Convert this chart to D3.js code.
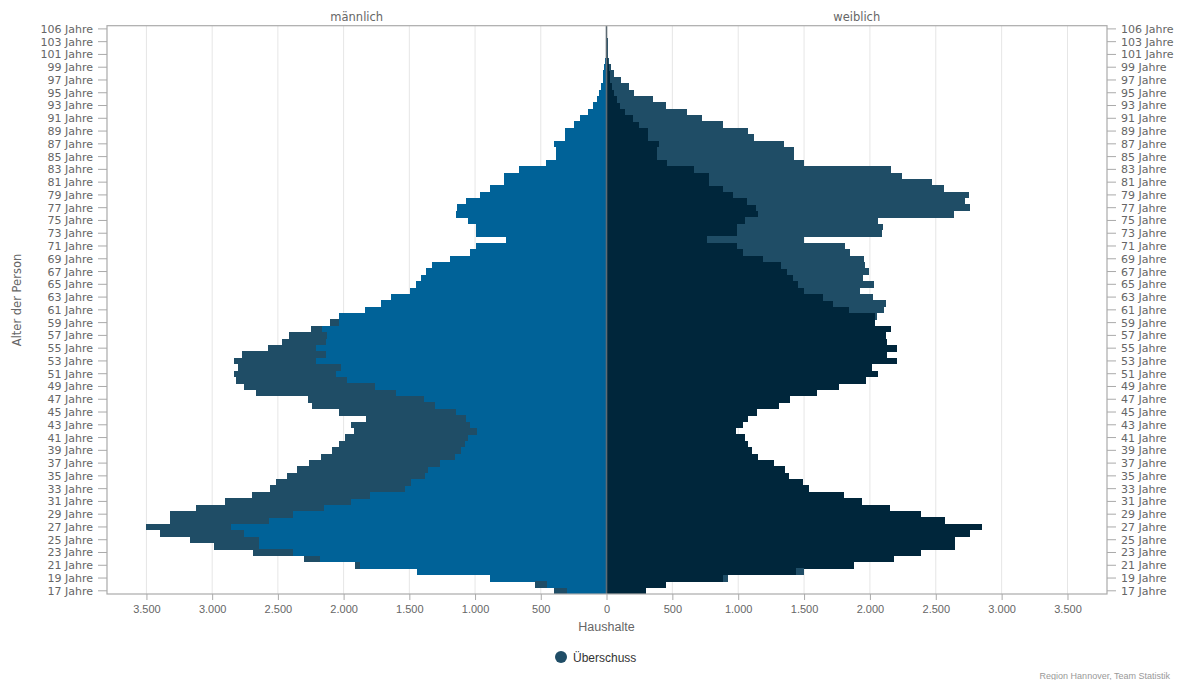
<!DOCTYPE html>
<html>
<head>
<meta charset="utf-8">
<script src="https://cdn.jsdelivr.net/npm/d3@7"></script>
<style>
  html, body { margin: 0; padding: 0; background: #fff; }
  svg { display: block; }
  text { font-family: "DejaVu Sans", Verdana, sans-serif; }
</style>
</head>
<body>
<svg id="chart" width="1184" height="680"></svg>
<script>
// ---- data ----
const ages = [17,18,19,20,21,22,23,24,25,26,27,28,29,30,31,32,33,34,35,36,37,38,39,40,
  41,42,43,44,45,46,47,48,49,50,51,52,53,54,55,56,57,58,59,60,61,62,63,64,65,66,67,68,69,70,
  71,72,73,74,75,76,77,78,79,80,81,82,83,84,85,86,87,88,89,90,91,92,93,94,95,96,97,98,99,100,
  101,102,103,104,106];

const male = [401,545,888,1441,1910,2303,2689,2986,3166,3400,3506,3318,3318,3121,2905,2694,2562,2512,2430,2354,
  2263,2169,2088,2035,1986,1923,1941,1827,2035,2240,2271,2664,2758,2816,2834,2803,2834,2770,2575,2469,
  2413,2250,2106,2035,1839,1718,1641,1497,1451,1413,1370,1324,1192,1035,994,766,994,989,1053,1147,
  1137,1066,964,888,779,779,665,457,386,386,401,312,312,249,203,140,101,76,56,43,
  30,25,18,10,6,4,3,2,2];

const female = [297,452,926,1502,1877,2182,2385,2644,2644,2760,2854,2570,2385,2151,1941,1801,1535,1489,1383,1357,
  1269,1154,1104,1078,1053,984,1040,1071,1142,1307,1390,1598,1763,1971,2060,2017,2207,2131,2207,2131,
  2123,2162,2035,2050,2106,2123,2022,1923,2030,1948,1992,1961,1953,1847,1814,1497,2093,2101,2063,2638,
  2760,2722,2753,2562,2468,2240,2161,1497,1421,1421,1350,1121,1073,888,723,614,452,355,211,173,
  107,56,35,20,14,10,8,5,3];

const xTicks = [0,500,1000,1500,2000,2500,3000,3500];
const sideTitles = ["männlich", "weiblich"];
const xTitle = "Haushalte";
const yTitle = "Alter der Person";
const legendLabel = "Überschuss";
const credit = "Region Hannover, Team Statistik";

// ---- styles ----
const C_MALE = "#006298";
const C_FEMALE = "#00263b";
const C_SURPLUS = "#1f4d66";
const C_TEXT = "#666666";

// ---- layout ----
const pLeft = 107, pRight = 1107, pTop = 25.7, pBottom = 594, zeroX = 606.5;
const maxVal = 3800;

const svg = d3.select("#chart");

const y = d3.scaleBand().domain(ages.map(String)).range([pBottom, pTop]).padding(0);
const xL = d3.scaleLinear().domain([0, maxVal]).range([zeroX, pLeft]);
const xR = d3.scaleLinear().domain([0, maxVal]).range([zeroX, pRight]);

// grid lines
const grid = svg.append("g");
xTicks.filter(t => t > 0).forEach(t => {
  [xL(t), xR(t)].forEach(px => {
    grid.append("line").attr("x1", px).attr("x2", px).attr("y1", pTop).attr("y2", pBottom)
      .attr("stroke", "#e6e6e6").attr("stroke-width", 1);
  });
});

const data = ages.map((a, i) => ({ age: String(a), m: male[i], f: female[i], base: Math.min(male[i], female[i]) }));

// bars
const bars = svg.append("g").attr("shape-rendering", "crispEdges");
bars.selectAll(".mb").data(data).join("rect")
  .attr("x", d => xL(d.base)).attr("width", d => xL(0) - xL(d.base))
  .attr("y", d => y(d.age)).attr("height", y.bandwidth() + 0.3)
  .attr("fill", C_MALE);
bars.selectAll(".ms").data(data.filter(d => d.m > d.f)).join("rect")
  .attr("x", d => xL(d.m)).attr("width", d => xL(d.base) - xL(d.m))
  .attr("y", d => y(d.age)).attr("height", y.bandwidth() + 0.3)
  .attr("fill", C_SURPLUS);
bars.selectAll(".fb").data(data).join("rect")
  .attr("x", xR(0)).attr("width", d => xR(d.base) - xR(0))
  .attr("y", d => y(d.age)).attr("height", y.bandwidth() + 0.3)
  .attr("fill", C_FEMALE);
bars.selectAll(".fs").data(data.filter(d => d.f > d.m)).join("rect")
  .attr("x", d => xR(d.base)).attr("width", d => xR(d.f) - xR(d.base))
  .attr("y", d => y(d.age)).attr("height", y.bandwidth() + 0.3)
  .attr("fill", C_SURPLUS);

// zero line
svg.append("line").attr("x1", zeroX).attr("x2", zeroX).attr("y1", pTop).attr("y2", pBottom)
  .attr("stroke", "#5f6b73").attr("stroke-width", 1.6);

// frame
svg.append("rect").attr("x", pLeft).attr("y", pTop).attr("width", pRight - pLeft).attr("height", pBottom - pTop)
  .attr("fill", "none").attr("stroke", "#aaaaaa").attr("stroke-width", 1.2);

// y axes (every second category)
const labelAges = ages.filter((a, i) => i % 2 === 0).map(String);
const fmtAge = a => a + " Jahre";

const yAxisL = d3.axisLeft(y).tickValues(labelAges).tickFormat(fmtAge).tickSize(9).tickPadding(5);
const gyl = svg.append("g").attr("transform", `translate(${pLeft},0)`).call(yAxisL);
const yAxisR = d3.axisRight(y).tickValues(labelAges).tickFormat(fmtAge).tickSize(9).tickPadding(5);
const gyr = svg.append("g").attr("transform", `translate(${pRight},0)`).call(yAxisR);
[gyl, gyr].forEach(g => {
  g.select(".domain").remove();
  g.selectAll("line").attr("stroke", "#aaaaaa");
  g.selectAll("text").attr("fill", C_TEXT).style("font-size", "11px")
    .style("font-family", "'DejaVu Sans', Verdana, sans-serif").attr("dy", "0.36em");
});

// x axes
const fmtNum = d3.formatLocale({ decimal: ",", thousands: ".", grouping: [3], currency: ["", " €"] }).format(",d");
const xAxisL = d3.axisBottom(xL).tickValues(xTicks).tickFormat(fmtNum).tickSize(6).tickPadding(5);
const xAxisR = d3.axisBottom(xR).tickValues(xTicks.filter(t => t > 0)).tickFormat(fmtNum).tickSize(6).tickPadding(5);
const gxl = svg.append("g").attr("transform", `translate(0,${pBottom})`).call(xAxisL);
const gxr = svg.append("g").attr("transform", `translate(0,${pBottom})`).call(xAxisR);
[gxl, gxr].forEach(g => {
  g.select(".domain").remove();
  g.selectAll("line").attr("stroke", "#aaaaaa");
  g.selectAll("text").attr("fill", C_TEXT)
    .style("font-family", "'Liberation Sans', Arial, sans-serif").style("font-size", "11px");
});

// titles
svg.append("text").attr("x", (pLeft + zeroX) / 2).attr("y", 21).attr("text-anchor", "middle")
  .attr("fill", C_TEXT).style("font-size", "11.5px").text(sideTitles[0]);
svg.append("text").attr("x", (zeroX + pRight) / 2).attr("y", 21).attr("text-anchor", "middle")
  .attr("fill", C_TEXT).style("font-size", "11.5px").text(sideTitles[1]);

svg.append("text").attr("x", zeroX).attr("y", 631).attr("text-anchor", "middle")
  .attr("fill", C_TEXT).style("font-family", "'Liberation Sans', Arial, sans-serif")
  .style("font-size", "12.5px").text(xTitle);

svg.append("text").attr("transform", `translate(21,300) rotate(-90)`)
  .attr("text-anchor", "middle").attr("fill", C_TEXT).style("font-size", "11.5px").text(yTitle);

// legend
svg.append("circle").attr("cx", 561).attr("cy", 657).attr("r", 6).attr("fill", C_SURPLUS);
svg.append("text").attr("x", 573).attr("y", 661.5).attr("fill", "#333")
  .style("font-family", "'Liberation Sans', Arial, sans-serif").style("font-size", "12px").text(legendLabel);

// credit
svg.append("text").attr("x", 1170).attr("y", 679).attr("text-anchor", "end").attr("fill", "#999")
  .style("font-family", "'Liberation Sans', Arial, sans-serif").style("font-size", "9px").text(credit);
</script>
</body>
</html>
